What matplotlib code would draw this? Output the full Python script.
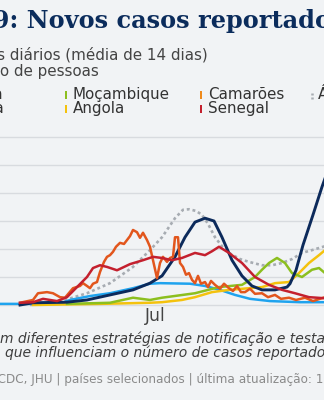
import matplotlib
matplotlib.use("Agg")
import matplotlib.pyplot as plt
from matplotlib.patches import Rectangle
from matplotlib.lines import Line2D

W, H = 324, 400
BG = '#f1f3f5'

# dias desde 1 jan 2020 / casos diarios por milhao (media de 14 dias)
namibia_d = [47, 60, 94, 114, 137, 160, 177, 189, 202, 212, 222, 232, 241, 249, 259, 269, 279, 289, 302, 314, 317, 323, 330, 340, 349, 352]
namibia_v = [0, 4, 5, 9, 18, 27, 39, 52, 86, 121, 148, 155, 150, 121, 80, 52, 34, 27, 27, 32, 38, 62, 107, 161, 211, 226]

gana_d = [20, 87, 97, 117, 137, 160, 177, 187, 217, 232, 247, 262, 277, 297, 327, 352]
gana_v = [2, 2, 9, 16, 21, 30, 38, 39, 38, 34, 27, 18, 11, 7, 5, 5]

mocambique_d = [94, 137, 160, 177, 189, 222, 246, 269, 282, 289, 296, 304, 312, 319, 329, 339, 346, 352]
mocambique_v = [2, 4, 13, 9, 13, 21, 32, 36, 50, 63, 75, 84, 75, 57, 50, 63, 66, 57]

angola_d = [60, 127, 177, 189, 209, 222, 239, 256, 276, 289, 302, 316, 326, 336, 346, 352]
angola_v = [0, 2, 4, 5, 9, 14, 23, 27, 30, 32, 39, 41, 57, 75, 89, 98]

camaroes_d = [47, 60, 65, 74, 80, 87, 92, 100, 107, 110, 114, 117, 120, 124, 127, 131, 134, 137, 140, 143,
              147, 151, 154, 157, 160, 164, 167, 170, 174, 177, 180, 184, 187, 190, 194, 197, 200, 202, 205,
              207, 210, 213, 216, 219, 222, 225, 228, 232, 235, 238, 242, 247, 251, 256, 260, 264, 268, 272,
              277, 282, 289, 295, 302, 308, 316, 323, 332, 340, 352]
camaroes_v = [4, 9, 21, 23, 21, 14, 13, 30, 34, 39, 34, 30, 38, 41, 59, 77, 86, 89, 95, 104,
              111, 109, 116, 123, 134, 130, 120, 129, 116, 104, 80, 48, 75, 86, 77, 84, 86, 121, 121,
              75, 68, 54, 57, 45, 39, 52, 38, 41, 32, 43, 36, 29, 38, 30, 25, 34, 23, 23,
              29, 20, 21, 14, 18, 11, 13, 9, 13, 7, 14]

senegal_d = [47, 60, 70, 84, 94, 104, 114, 120, 127, 134, 144, 157, 170, 180, 189, 199, 209, 222, 232, 239,
             246, 256, 269, 282, 296, 309, 322, 336, 352]
senegal_v = [4, 5, 11, 7, 14, 32, 50, 66, 71, 68, 62, 73, 80, 86, 84, 80, 84, 93, 89, 96,
             104, 93, 75, 50, 36, 27, 21, 14, 12]

africa_sul_d = [57, 92, 114, 137, 160, 177, 189, 202, 210, 216, 223, 229, 235, 242, 249, 256, 267, 276,
                289, 299, 309, 319, 329, 339, 352]
africa_sul_v = [0, 9, 21, 39, 68, 98, 121, 155, 170, 171, 168, 161, 145, 121, 105, 93, 82, 77,
                71, 71, 75, 82, 93, 98, 105]

fig = plt.figure(figsize=(W / 100, H / 100), dpi=100, facecolor=BG)
rend = fig.canvas.get_renderer()


def text_w(s, **kw):
    t = fig.text(0, 0, s, **kw)
    w = t.get_window_extent(rend).width
    t.remove()
    return w


def fit(s, target, **kw):
    return 10 * target / text_w(s, size=10, **kw)


def put(hidden, shown, x, y, **kw):
    # texto cortado na borda: 'hidden' fica a esquerda de x
    x0 = x - text_w(hidden, **kw) if hidden else x
    fig.text(x0 / W, 1 - y / H, hidden + shown, va='baseline', **kw)


serif = dict(family='DejaVu Serif', weight='bold')
t_fs = fit(": Novos casos reportad", 307, **serif)
put("Covid-19", ": Novos casos reportados", 9, 28, size=t_fs, color='#0b2c5c', **serif)

s_fs = fit("diários (média de 14 dias)", 248 * 0.8)
put("Novos casos", " diários (média de 14 dias)", 5, 60, size=s_fs, color='#444444')
put("por milhã", "o de pessoas", 0, 76, size=s_fs, color='#444444')

# legenda
l_fs = fit("Moçambique", 110 * 0.88)
fig.text(3.5 / W, 1 - 99 / H, "Namíbia", ha='right', va='baseline', size=l_fs, color='#333333')
fig.text(3.5 / W, 1 - 113 / H, "Gana", ha='right', va='baseline', size=l_fs, color='#333333')
leg = [("Moçambique", '#8cbf1f', 64.5, 73, 99), ("Angola", '#f4c20d', 64.5, 73, 113),
       ("Camarões", '#ef8a1c', 199.5, 208, 99), ("Senegal", '#c4202e', 199.5, 208, 113)]
for name, c, mx, tx, y in leg:
    fig.add_artist(Rectangle((mx / W, 1 - y / H), 2.6 / W, 8.5 / H, transform=fig.transFigure,
                             color=c, lw=0))
    fig.text(tx / W, 1 - y / H, name, va='baseline', size=l_fs, color='#333333')
fig.add_artist(Line2D([311.5 / W, 311.5 / W], [1 - 99 / H, 1 - 90.5 / H], transform=fig.transFigure,
                      color='#a7acb2', lw=1.8, dashes=(0.8, 0.8)))
fig.text(318 / W, 1 - 99 / H, "África do Sul", va='baseline', size=l_fs, color='#333333')

ax = fig.add_axes([-20 / W, 95 / H, 364 / W, 168 / H])
ax.set_xlim(7, 371)
ax.set_ylim(0, 300)
ax.patch.set_visible(False)
for v in range(0, 301, 50):
    ax.axhline(v, color='#d8dbdf', lw=1, zorder=0, clip_on=False)
for s in ax.spines.values():
    s.set_visible(False)
ax.set_yticks([])
ax.set_xticks([182], ['Jul'])
ax.tick_params(axis='x', length=0, pad=1.5, labelsize=fit("Jul", 23 * 0.9), labelcolor='#444444')

ax.plot(africa_sul_d, africa_sul_v, color='#a7acb2', lw=1.9, dashes=(1.1, 1.1), clip_on=False)
ax.plot(gana_d, gana_v, color='#1fa3ee', lw=1.8, clip_on=False)
ax.plot(angola_d, angola_v, color='#f4c20d', lw=1.8, clip_on=False)
ax.plot(mocambique_d, mocambique_v, color='#8cbf1f', lw=1.8, clip_on=False)
ax.plot(namibia_d, namibia_v, color='#0c2a5b', lw=2.1, clip_on=False)
ax.plot(camaroes_d, camaroes_v, color='#e2561d', lw=1.8, clip_on=False)
ax.plot(senegal_d, senegal_v, color='#c4202e', lw=1.8, clip_on=False)

c_fs = fit("m diferentes estratégias de notificação e", 318 * 0.9, style='italic')
put("Os países tê", "m diferentes estratégias de notificação e testagem", 0, 343,
    size=c_fs, style='italic', color='#3d3d3d')
put("", "que influenciam o número de casos reportados", 5, 357,
    size=c_fs, style='italic', color='#3d3d3d')

f_fs = fit("DC, JHU | países selecionados | última atualização", 317 * 0.95)
put("Fonte: Africa C", "DC, JHU | países selecionados | última atualização: 18/12/2020", 6, 383,
    size=f_fs, color='#8a8a8a')

fig.savefig("out.png", dpi=100, facecolor=BG)
